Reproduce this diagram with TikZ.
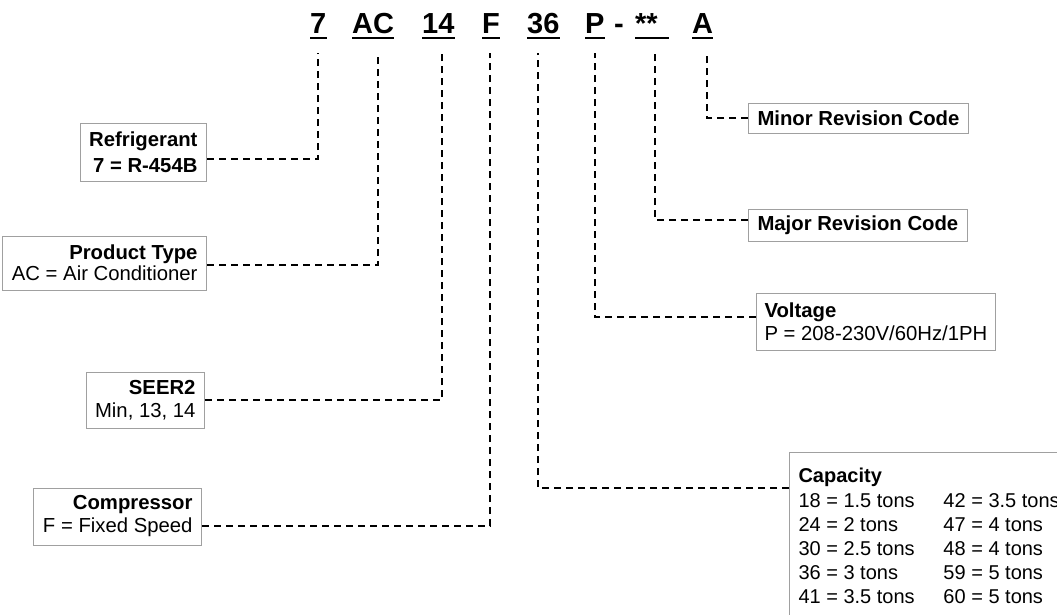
\documentclass[tikz,border=0pt]{standalone}
\usepackage{fontspec}
\setmainfont{Liberation Sans}
\usetikzlibrary{positioning,calc}
\definecolor{ink}  {HTML}{000000}
\definecolor{frame}{HTML}{A0A0A0}
\tikzset{
  % --- nodes
  code/.style = {anchor=base west, inner sep=0pt, text=ink,
                 font=\fontsize{29}{30}\selectfont\bfseries},
  box/.style  = {draw=frame, line width=1pt, fill=white, inner xsep=9pt,
                 inner ysep=0pt, text=ink, font=\fontsize{20.3}{23}\selectfont},
  rbox/.style = {box, align=right, anchor=east, minimum height=57pt},
  lbox/.style = {box, align=left, anchor=west},
  % --- edges
  lead/.style = {draw=ink, line width=2.4pt, dash pattern=on 7pt off 5pt},
  uline/.style= {draw=ink, line width=2.2pt},
}
\begin{document}
\begin{tikzpicture}[x=1pt,y=-1pt]
  \useasboundingbox (0,0) rectangle (1057,614);
  \clip (0,0) rectangle (1057,614);
  % model number
  \node[code] (c1) at (310,33) {7};
  \node[code] (c2) at (352,33) {AC};
  \node[code] (c3) at (422,33) {14};
  \node[code] (c4) at (482,33) {F};
  \node[code] (c5) at (527,33) {36};
  \node[code] (c6) at (585,33) {P};
  \node[code] (c7) at (614,33) {-};
  \node[code] (c8) at (635,33) {**\kern11pt};
  \node[code] (c9) at (692,33) {A};
  \foreach \n in {c1,c2,c3,c4,c5,c6,c8,c9}
    \draw[uline] ([yshift=-5pt]\n.base west) -- ([yshift=-5pt]\n.base east);
  \coordinate (t1) at (318,53);
  \coordinate (t2) at (378,53);
  \coordinate (t3) at (442,53);
  \coordinate (t4) at (490,53);
  \coordinate (t5) at (538,53);
  \coordinate (t6) at (595,53);
  \coordinate (t8) at (655,53);
  \coordinate (t9) at (707,53);
  % left boxes
  \node[rbox,minimum height=58pt] (a) at (207,152) {\textbf{Refrigerant}\\[3pt]\textbf{7 = R-454B}};
  \node[rbox,minimum height=54pt] (b) at (207,263) {\textbf{Product Type}\\[-2pt]AC = Air Conditioner};
  \node[rbox,minimum height=56pt] (d) at (205,400) {\textbf{SEER2}\\Min, 13, 14};
  \node[rbox] (e) at (202,516.5) {\textbf{Compressor}\\F = Fixed Speed};
  % right boxes
  \node[lbox,minimum height=30pt] (h) at (748,118) {\textbf{Minor Revision Code}};
  \node[lbox,minimum height=32pt] (g) at (748,225) {\textbf{Major Revision Code}};
  \node[lbox,minimum height=57pt,inner xsep=8pt] (f) at (756,321.5) {\textbf{Voltage}\\P = 208-230V/60Hz/1PH};
  \node[box,anchor=north west,inner xsep=9pt,inner ysep=13pt,
        font=\fontsize{20}{24}\selectfont] (k) at (789,452) {%
    \begin{tabular}{@{}p{145pt}@{}l@{}}
      \textbf{Capacity} & \\[1pt]
      18 = 1.5 tons & 42 = 3.5 tons\\
      24 = 2 tons   & 47 = 4 tons\\
      30 = 2.5 tons & 48 = 4 tons\\
      36 = 3 tons   & 59 = 5 tons\\
      41 = 3.5 tons & 60 = 5 tons\\
      \end{tabular}};
  % leaders
  \draw[lead] ([yshift=-7pt]a.east) -| (t1);
  \draw[lead] ([yshift=-2pt]b.east) -| (t2);
  \draw[lead] (d.east) -| (t3);
  \draw[lead] ([yshift=-9.5pt]e.east) -| (t4);
  \draw[lead] ([yshift=-36pt]k.north west) -| (t5);
  \draw[lead] ([yshift=4.5pt]f.west) -| (t6);
  \draw[lead] ([yshift=5pt]g.west) -| (t8);
  \draw[lead] (h.west) -| (t9);
\end{tikzpicture}
\end{document}
